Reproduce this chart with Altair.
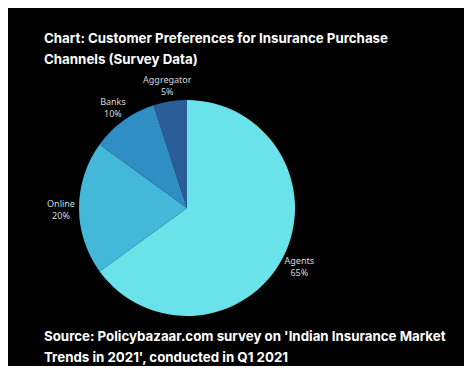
import altair as alt
import pandas as pd

channels = ["Agents", "Online", "Banks", "Aggregator"]
shares = [65, 20, 10, 5]
colors = ["#69e2ea", "#43b8d9", "#2f8fc4", "#2b5e99"]

title_lines = ["Chart: Customer Preferences for Insurance Purchase", "Channels (Survey Data)"]
source_lines = ["Source: Policybazaar.com survey on 'Indian Insurance Market",
                "Trends in 2021', conducted in Q1 2021"]

df = pd.DataFrame({
    "channel": channels,
    "share": shares,
    "order": list(range(len(channels))),
})
df["label"] = df["channel"] + "\n" + df["share"].astype(str) + "%"

CX, CY = 179, 200

base = alt.Chart(df).encode(
    theta=alt.Theta("share:Q", stack=True),
    order=alt.Order("order:Q"),
)

pie = base.mark_arc(outerRadius=108, strokeWidth=0).encode(
    color=alt.Color("channel:N", scale=alt.Scale(domain=channels, range=colors), legend=None),
    x=alt.value(CX), y=alt.value(CY),
)

labels = base.mark_text(radius=126, fontSize=9, font="Noto Sans", color="#d8d8d8",
                        lineBreak="\n", lineHeight=12, baseline="middle", dy=-4).encode(
    text="label:N",
    x=alt.value(CX), y=alt.value(CY),
)

title = alt.Chart(alt.Data(values=[{}])).mark_text(
    text=title_lines, align="left", baseline="alphabetic", font="Inter",
    fontWeight="bold", fontSize=13.3, lineHeight=20.5, color="#ffffff",
).encode(x=alt.value(36), y=alt.value(35))

source = alt.Chart(alt.Data(values=[{}])).mark_text(
    text=source_lines, align="left", baseline="alphabetic", font="Inter",
    fontWeight="bold", fontSize=13.3, lineHeight=21, color="#ffffff",
).encode(x=alt.value(36), y=alt.value(333))

chart = alt.layer(pie, labels, title, source).properties(
    width=456, height=358, background="#000000", padding=0,
    autosize=alt.AutoSizeParams(type="none"),
).configure_view(stroke=None)

chart.save("out.html", embed_options={"renderer": "svg", "actions": False})
